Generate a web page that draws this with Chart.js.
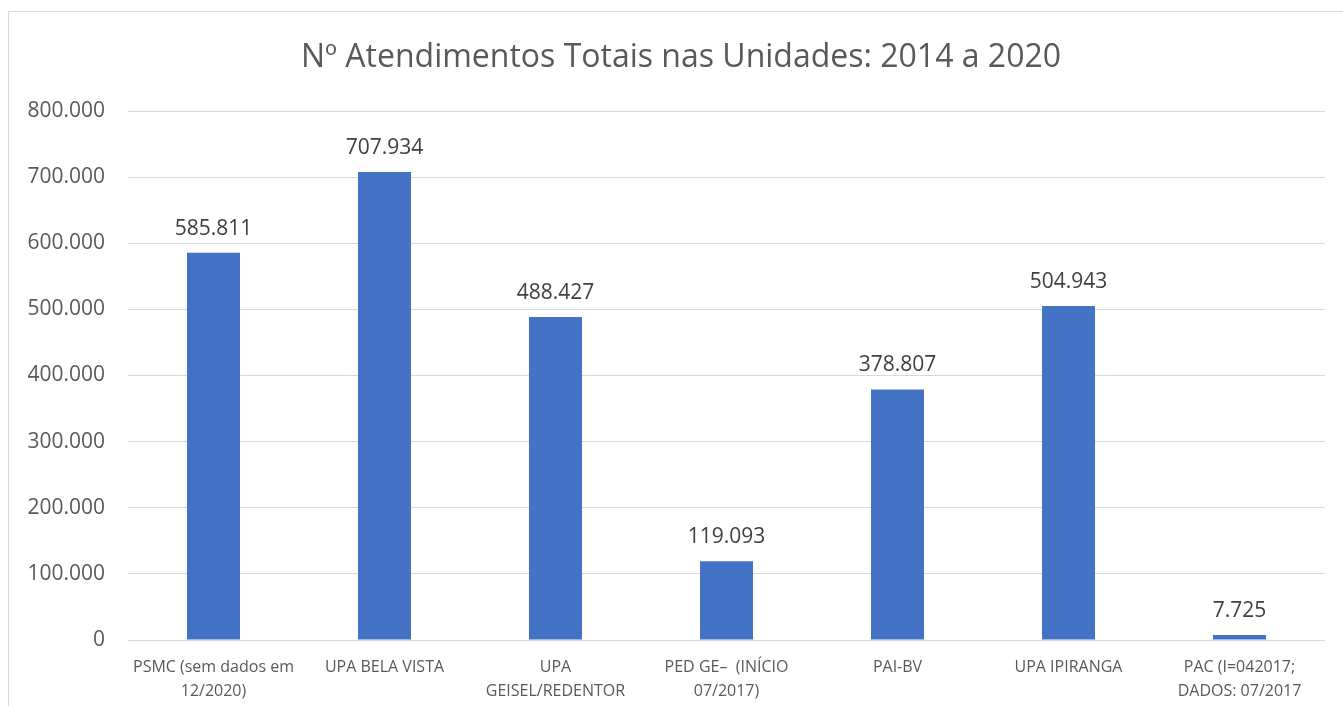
<!DOCTYPE html>
<html>
<head>
<meta charset="utf-8">
<script src="https://cdn.jsdelivr.net/npm/chart.js@4"></script>
<style>
  body { margin: 0; background: #fff; overflow: hidden; }
  #frame { position: absolute; left: 8px; top: 11px; width: 1345px; height: 700px; border: 1px solid #d9d9d9; }
  #wrap { position: absolute; left: 0; top: 0; width: 1343px; height: 706px; }
</style>
</head>
<body>
<div id="frame"></div>
<div id="wrap"><canvas id="myChart"></canvas></div>
<script>
var categories = [
    ['PSMC (sem dados em', '12/2020)'],
    'UPA BELA VISTA',
    ['UPA', 'GEISEL/REDENTOR'],
    ['PED GE\u2013  (IN\u00cdCIO', '07/2017)'],
    'PAI-BV',
    'UPA IPIRANGA',
    ['PAC (I=042017;', 'DADOS: 07/2017']
];
var atendimentos = [585811, 707934, 488427, 119093, 378807, 504943, 7725];
var yTicks = [0, 100000, 200000, 300000, 400000, 500000, 600000, 700000, 800000];
var chartTitle = 'N\u00ba Atendimentos Totais nas Unidades: 2014 a 2020';

var FONT = "'Open Sans'";

function fmt(v) {
    return String(v).replace(/\B(?=(\d{3})+(?!\d))/g, '.');
}

// value labels above the bars + title drawn centred like the original
var extras = {
    id: 'extras',
    afterDatasetsDraw: function (chart) {
        var ctx = chart.ctx;
        var meta = chart.getDatasetMeta(0);
        ctx.save();
        ctx.font = '21px ' + FONT;
        ctx.fillStyle = '#404040';
        ctx.textAlign = 'center';
        ctx.textBaseline = 'middle';
        meta.data.forEach(function (bar, i) {
            ctx.fillText(fmt(atendimentos[i]), bar.x, bar.y - 24);
        });
        ctx.font = '32px ' + FONT;
        ctx.fillStyle = '#595959';
        ctx.fillText(chartTitle, 681, 58);
        ctx.restore();
    }
};

var ctx = document.getElementById('myChart').getContext('2d');
var myChart = new Chart(ctx, {
    type: 'bar',
    data: {
        labels: categories,
        datasets: [{
            label: 'Atendimentos',
            data: atendimentos,
            backgroundColor: '#4472C4',
            borderWidth: 0,
            barPercentage: 0.31,
            categoryPercentage: 1
        }]
    },
    options: {
        responsive: true,
        maintainAspectRatio: false,
        animation: false,
        layout: {
            padding: { left: 18, right: 18, top: 111, bottom: 0 }
        },
        plugins: {
            legend: { display: false },
            tooltip: { enabled: false },
            title: { display: false }
        },
        scales: {
            x: {
                grid: { display: false },
                border: { display: false },
                ticks: {
                    color: '#595959',
                    font: { family: FONT, size: 16, lineHeight: 1.5 },
                    maxRotation: 0,
                    autoSkip: false,
                    padding: 7
                },
                afterFit: function (scale) { scale.height = 66; }
            },
            y: {
                min: 0,
                max: 800000,
                afterBuildTicks: function (scale) {
                    scale.ticks = yTicks.map(function (v) { return { value: v }; });
                },
                grid: { color: '#d9d9d9', lineWidth: 1, drawTicks: false },
                border: { display: false },
                ticks: {
                    color: '#595959',
                    font: { family: FONT, size: 21 },
                    padding: 23,
                    callback: function (v) { return fmt(v); }
                },
                afterFit: function (scale) { scale.width = 110; }
            }
        }
    },
    plugins: [extras]
});
</script>
</body>
</html>
